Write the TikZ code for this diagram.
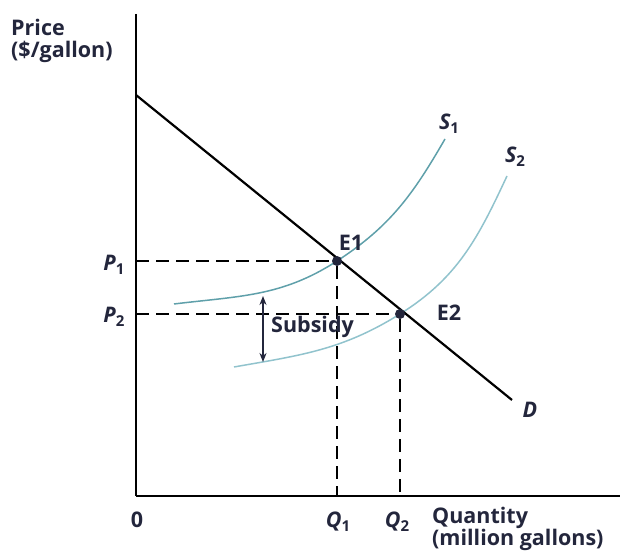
\documentclass[tikz,border=0pt]{standalone}
\usepackage{fontspec}
\setmainfont{Open Sans}
\usepackage{pgf, tikz}
\usetikzlibrary{arrows.meta}
\pgfdeclarelayer{edgelayer}
\pgfdeclarelayer{nodelayer}
\pgfsetlayers{edgelayer,nodelayer,main}
\definecolor{ink}{RGB}{35,38,60}
\definecolor{supplyone}{RGB}{95,160,170}
\definecolor{supplytwo}{RGB}{145,195,205}
\tikzstyle{axis}=[draw=black, line width=1.8pt]
\tikzstyle{edge}=[draw=black, line width=2.2pt]
\tikzstyle{guide}=[draw=black, line width=1.3pt, dash pattern=on 13pt off 7pt]
\tikzstyle{dot}=[circle, fill=ink, inner sep=0pt, minimum size=10pt]
\tikzstyle{label}=[text=ink, font=\fontsize{21.5}{22}\selectfont\bfseries, inner sep=1pt]
\newcommand{\idx}[1]{\raisebox{-0.35ex}{\upshape\fontsize{15}{15}\selectfont #1}}

\begin{document}
\begin{tikzpicture}[x=1pt, y=1pt]
			\useasboundingbox (0,0) rectangle (625,557);
			\begin{pgfonlayer}{nodelayer}
			\node [style=dot] (e1) at (337, 296) {};
			\node [style=dot] (e2) at (400, 243) {};
			\node [style=label, anchor=north west, align=left] (price) at (10, 539) {Price\\(\$/gallon)};
			\node [style=label] (p1) at (114, 292) {\itshape P\idx{1}};
			\node [style=label] (p2) at (114, 240) {\itshape P\idx{2}};
			\node [style=label] (zero) at (137, 37) {0};
			\node [style=label] (q1) at (338, 35) {\itshape Q\idx{1}};
			\node [style=label] (q2) at (397, 35) {\itshape Q\idx{2}};
			\node [style=label, anchor=north west, align=left] (qty) at (431, 51) {Quantity\\(million gallons)};
			\node [style=label] (s1) at (449, 433) {\itshape S\idx{1}};
			\node [style=label] (s2) at (515, 400) {\itshape S\idx{2}};
			\node [style=label] (e1l) at (351, 314) {E1};
			\node [style=label] (e2l) at (449, 244) {E2};
			\node [style=label] (d) at (530, 147) {\itshape D};
			\node [style=label, anchor=west] (subsidy) at (270, 230) {Subsidy};
			\end{pgfonlayer}
			\begin{pgfonlayer}{edgelayer}
			\coordinate (o) at (136, 61);
			\coordinate (ytop) at (136, 543);
			\coordinate (xend) at (620, 61);
			\coordinate (da) at (136, 462);
			\coordinate (db) at (512, 157);
			\coordinate (py1) at (136, 296);
			\coordinate (py2) at (136, 243);
			\coordinate (qx1) at (337, 61);
			\coordinate (qx2) at (400, 61);
			\coordinate (s1a) at (174, 253);
			\coordinate (s1b) at (445, 418);
			\coordinate (s2a) at (234, 190);
			\coordinate (s2b) at (507, 381);
			\coordinate (suba) at (263, 261);
			\coordinate (subb) at (263, 195);
			\draw [style=axis] (ytop) to (o);
			\draw [style=axis] (o) to (xend);
			\draw [style=guide] (py1) to (e1);
			\draw [style=guide] (py2) to (e2);
			\draw [style=guide] (e1) to (qx1);
			\draw [style=guide] (e2) to (qx2);
			\draw [draw=supplyone, line width=1.5pt] (s1a) to[out=7, in=213] (e1.center) to[out=33, in=240] (s1b);
			\draw [draw=supplytwo, line width=1.5pt] (s2a) to[out=10, in=212] (e2.center) to[out=32, in=245] (s2b);
			\draw [style=edge] (da) to (db);
			\draw [draw=ink, line width=1.5pt, {Stealth[length=9pt,width=7pt]}-{Stealth[length=9pt,width=7pt]}] (suba) to (subb);
			\end{pgfonlayer}
			\end{tikzpicture}
\end{document}
